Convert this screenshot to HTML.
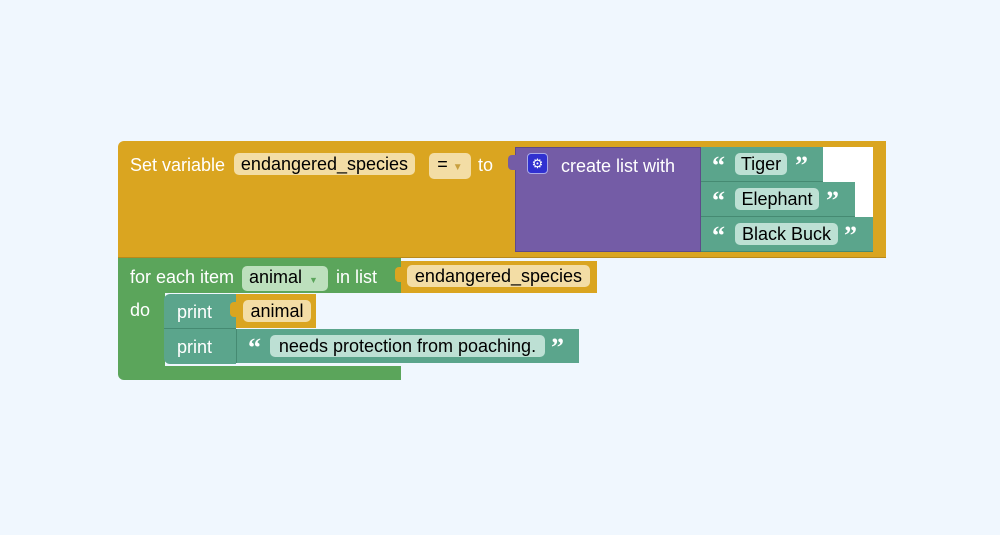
<!DOCTYPE html>
<html><head><style>
body{margin:0;width:1000px;height:535px;background:#f0f7fe;position:relative;overflow:hidden;font-family:"Liberation Sans",Arial,sans-serif;font-size:18px}
div{position:absolute;box-sizing:border-box}
.t{color:#fff;white-space:nowrap;line-height:22px}
.f{color:#000;white-space:nowrap;line-height:22px;text-align:center;border-radius:5px}
.o{background:#daa520}
.g{background:#5ba55b}
.p{background:#745ca6}
.c{background:#5ba58c}
.q{color:#fff;font-size:26px;font-weight:bold;font-family:"Liberation Serif",serif;line-height:22px}
</style></head><body>
<div class="o" style="left:118px;top:141px;width:768px;height:117px;border-radius:6px 0 0 0;border-bottom:1px solid #b8891a"></div>
<div style="left:823px;top:147px;width:50px;height:35px;background:#fff"></div>
<div style="left:855px;top:182px;width:18px;height:35px;background:#fff"></div>
<div class="t" style="left:130px;top:154px">Set variable</div>
<div class="f" style="left:234px;top:153px;width:181px;background:#f3dda5">endangered_species</div>
<div class="f" style="left:429px;top:153px;width:42px;background:#f3dda5">= <span style="color:#c9a040;font-size:10px">▼</span></div>
<div class="t" style="left:478px;top:154px">to</div>
<div class="p" style="left:515px;top:147px;width:186px;height:105px;border:1px solid #5e4a8a"></div>
<div class="p" style="left:508px;top:155px;width:9px;height:15px;border-radius:4px 0 0 4px"></div>
<div style="left:527px;top:153px;width:21px;height:21px;background:#3030d0;border:1px solid #a9a9e8;border-radius:4px;color:#fff;font-size:13px;text-align:center;line-height:19px">⚙</div>
<div class="t" style="left:561px;top:155px">create list with</div>
<div class="c" style="left:701px;top:147px;width:122px;height:35px;border-bottom:1px solid #458a72"></div>
<div class="c" style="left:701px;top:182px;width:154px;height:35px;border-bottom:1px solid #458a72"></div>
<div class="c" style="left:701px;top:217px;width:172px;height:35px;border-bottom:1px solid #458a72"></div>
<div class="q" style="left:712px;top:155px">“</div><div class="f" style="left:735px;top:153px;width:52px;background:#bde0d4">Tiger</div><div class="q" style="left:795px;top:155px">”</div>
<div class="q" style="left:712px;top:190px">“</div><div class="f" style="left:735px;top:188px;width:84px;background:#bde0d4">Elephant</div><div class="q" style="left:826px;top:190px">”</div>
<div class="q" style="left:712px;top:225px">“</div><div class="f" style="left:735px;top:223px;width:103px;background:#bde0d4">Black Buck</div><div class="q" style="left:844px;top:225px">”</div>
<div class="g" style="left:118px;top:258px;width:283px;height:35px"></div>
<div class="g" style="left:118px;top:293px;width:47px;height:75px"></div>
<div class="g" style="left:118px;top:366px;width:283px;height:14px;border-radius:0 0 0 6px"></div>
<div class="t" style="left:130px;top:266px">for each item</div>
<div class="f" style="left:242px;top:266px;width:86px;background:#bde0bd;text-align:left;padding-left:7px">animal <span style="color:#5ba55b;font-size:9px;margin-left:2px">▼</span></div>
<div class="t" style="left:336px;top:266px">in list</div>
<div class="o" style="left:401px;top:261px;width:196px;height:32px"></div>
<div class="o" style="left:395px;top:267px;width:8px;height:15px;border-radius:4px 0 0 4px"></div>
<div class="f" style="left:407px;top:265px;width:183px;background:#f3dda5">endangered_species</div>
<div class="t" style="left:130px;top:299px">do</div>
<div class="c" style="left:164px;top:294px;width:72px;height:35px;border-radius:6px 0 0 0;border-bottom:1px solid #458a72"></div>
<div class="c" style="left:164px;top:329px;width:72px;height:35px;border-radius:0 0 0 6px"></div>
<div class="t" style="left:177px;top:301px">print</div>
<div class="t" style="left:177px;top:336px">print</div>
<div class="o" style="left:236px;top:294px;width:80px;height:34px"></div>
<div class="o" style="left:230px;top:302px;width:8px;height:15px;border-radius:4px 0 0 4px"></div>
<div class="f" style="left:243px;top:300px;width:68px;background:#f3dda5">animal</div>
<div class="c" style="left:236px;top:329px;width:343px;height:34px;border-left:1px solid #458a72"></div>
<div class="q" style="left:248px;top:337px">“</div>
<div class="f" style="left:270px;top:335px;width:275px;background:#bde0d4">needs protection from poaching.</div>
<div class="q" style="left:551px;top:337px">”</div>
</body></html>
